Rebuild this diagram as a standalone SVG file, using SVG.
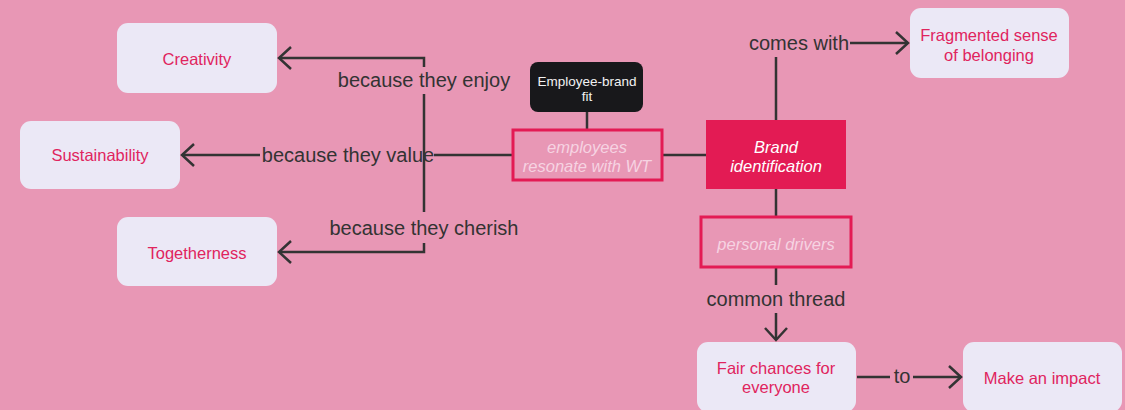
<svg xmlns="http://www.w3.org/2000/svg" width="1125" height="410" viewBox="0 0 1125 410">
  <style>
    .bg { fill: #e897b5; }
    .soft { fill: #ebe8f6; }
    .soft-text { font-family: "Liberation Sans", Arial, sans-serif; font-size: 16.5px; fill: #e0245e; text-anchor: middle; }
    .frame { fill: none; stroke: #e31b54; stroke-width: 3; }
    .frame-text { font-family: "Liberation Sans", Arial, sans-serif; font-size: 16.5px; font-style: italic; fill: #f6d3e2; text-anchor: middle; }
    .solid { fill: #e31b54; }
    .solid-text { font-family: "Liberation Sans", Arial, sans-serif; font-size: 16.5px; font-style: italic; fill: #ffffff; text-anchor: middle; }
    .dark { fill: #18181b; }
    .dark-text { font-family: "Liberation Sans", Arial, sans-serif; font-size: 13.5px; fill: #f2f2f2; text-anchor: middle; }
    .link { fill: none; stroke: #333333; stroke-width: 2.5; }
    .label { font-family: "Liberation Sans", Arial, sans-serif; font-size: 20px; fill: #333333; text-anchor: middle; dominant-baseline: central; }
  </style>
  <defs>
    <marker id="chevron" markerUnits="userSpaceOnUse" markerWidth="30" markerHeight="30" refX="14" refY="12" orient="auto" overflow="visible">
      <path d="M2,1 L14,12 L2,23" fill="none" stroke="#333333" stroke-width="2.5"/>
    </marker>
  </defs>

  <rect class="bg" x="0" y="0" width="1125" height="410"/>

  <g id="connectors">
    <!-- employees resonate to Sustainability -->
    <path class="link" d="M512,155 H434"/>
    <text class="label" x="348" y="155">because they value</text>
    <path class="link" d="M260,155 H182" marker-end="url(#chevron)"/>
    <!-- employees resonate to Creativity -->
    <path class="link" d="M424,155 V94"/>
    <text class="label" x="424" y="80">because they enjoy</text>
    <path class="link" d="M424,67 V58 H279" marker-end="url(#chevron)"/>
    <!-- employees resonate to Togetherness -->
    <path class="link" d="M424,155 V212"/>
    <text class="label" x="424" y="228">because they cherish</text>
    <path class="link" d="M424,243 V252 H279" marker-end="url(#chevron)"/>
    <!-- Employee-brand fit with employees resonate -->
    <path class="link" d="M587,112 V130"/>
    <!-- employees resonate with Brand identification -->
    <path class="link" d="M662,155 H706"/>
    <!-- Brand identification to Fragmented sense of belonging -->
    <path class="link" d="M776,120 V57"/>
    <text class="label" x="799" y="43">comes with</text>
    <path class="link" d="M850,43 H908" marker-end="url(#chevron)"/>
    <!-- Brand identification with personal drivers -->
    <path class="link" d="M776,189 V217"/>
    <!-- personal drivers to Fair chances -->
    <path class="link" d="M776,268 V285"/>
    <text class="label" x="776" y="299">common thread</text>
    <path class="link" d="M776,313 V340" marker-end="url(#chevron)"/>
    <!-- Fair chances to Make an impact -->
    <path class="link" d="M857,377 H890"/>
    <text class="label" x="902" y="376">to</text>
    <path class="link" d="M913,377 H961" marker-end="url(#chevron)"/>
  </g>

  <g id="creativity">
    <rect class="soft" x="117" y="23" width="160" height="70" rx="11"/>
    <text class="soft-text" x="197" y="65">Creativity</text>
  </g>

  <g id="sustainability">
    <rect class="soft" x="20" y="121" width="160" height="68" rx="11"/>
    <text class="soft-text" x="100" y="161">Sustainability</text>
  </g>

  <g id="togetherness">
    <rect class="soft" x="117" y="217" width="160" height="69" rx="11"/>
    <text class="soft-text" x="197" y="259">Togetherness</text>
  </g>

  <g id="employee-brand-fit">
    <rect class="dark" x="530" y="62" width="113" height="50" rx="8"/>
    <text class="dark-text" x="587" y="86">Employee-brand</text>
    <text class="dark-text" x="587" y="101">fit</text>
  </g>

  <g id="employees-resonate">
    <rect class="frame" x="513" y="130" width="149" height="50"/>
    <text class="frame-text" x="587" y="153">employees</text>
    <text class="frame-text" x="587" y="172">resonate with WT</text>
  </g>

  <g id="brand-identification">
    <rect class="solid" x="706" y="120" width="140" height="69"/>
    <text class="solid-text" x="776" y="153">Brand</text>
    <text class="solid-text" x="776" y="172">identification</text>
  </g>

  <g id="fragmented-belonging">
    <rect class="soft" x="910" y="8" width="159" height="70" rx="11"/>
    <text class="soft-text" x="989" y="41">Fragmented sense</text>
    <text class="soft-text" x="989" y="61">of belonging</text>
  </g>

  <g id="personal-drivers">
    <rect class="frame" x="701" y="217" width="150" height="50"/>
    <text class="frame-text" x="776" y="250">personal drivers</text>
  </g>

  <g id="fair-chances">
    <rect class="soft" x="697" y="342" width="159" height="70" rx="11"/>
    <text class="soft-text" x="776" y="374">Fair chances for</text>
    <text class="soft-text" x="776" y="393">everyone</text>
  </g>

  <g id="make-an-impact">
    <rect class="soft" x="963" y="342" width="159" height="70" rx="11"/>
    <text class="soft-text" x="1042" y="384">Make an impact</text>
  </g>
</svg>
